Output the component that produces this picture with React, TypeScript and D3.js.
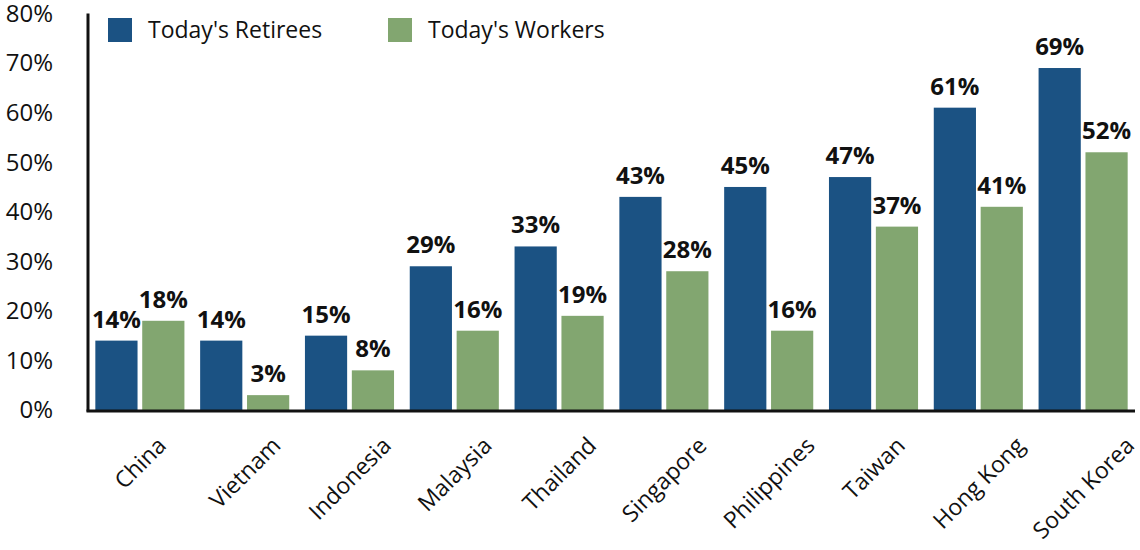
import * as d3 from "d3";
import { useRef, useEffect } from "react";

const categories = [
  "China",
  "Vietnam",
  "Indonesia",
  "Malaysia",
  "Thailand",
  "Singapore",
  "Philippines",
  "Taiwan",
  "Hong Kong",
  "South Korea",
];
const seriesNames = ["Today's Retirees", "Today's Workers"];
const retirees = [14, 14, 15, 29, 33, 43, 45, 47, 61, 69];
const workers = [18, 3, 8, 16, 19, 28, 16, 37, 41, 52];
const yTicks = [0, 10, 20, 30, 40, 50, 60, 70, 80];

const colors = ["#1b5283", "#82a670"];
const FONT = "'Open Sans', Lato, sans-serif";

function draw(svgEl: SVGSVGElement | null) {
  if (!svgEl) return;
  const svg = d3.select(svgEl);
  svg.selectAll("*").remove();

  const left = 88;
  const right = 1135;
  const bottom = 410;
  const top = 13.5;

  const x0 = d3
    .scaleBand<string>()
    .domain(categories)
    .range([left, right])
    .paddingInner(0.15)
    .paddingOuter(0.07);
  const x1 = d3
    .scaleBand<string>()
    .domain(seriesNames)
    .range([0, x0.bandwidth()])
    .paddingInner(0.1);
  const y = d3.scaleLinear().domain([0, 80]).range([bottom, top]);

  const rows = categories.map((c, i) => ({
    cat: c,
    vals: [retirees[i], workers[i]],
  }));

  // bars
  const groups = svg
    .append("g")
    .selectAll("g")
    .data(rows)
    .join("g")
    .attr("transform", (d) => `translate(${x0(d.cat)},0)`);

  groups
    .selectAll("rect")
    .data((d) => d.vals.map((v, j) => ({ v, s: seriesNames[j], j })))
    .join("rect")
    .attr("x", (d) => x1(d.s)!)
    .attr("y", (d) => y(d.v))
    .attr("width", x1.bandwidth())
    .attr("height", (d) => bottom - y(d.v))
    .attr("fill", (d) => colors[d.j]);

  // value labels
  groups
    .selectAll("text")
    .data((d) => d.vals.map((v, j) => ({ v, s: seriesNames[j] })))
    .join("text")
    .attr("x", (d) => x1(d.s)! + x1.bandwidth() / 2)
    .attr("y", (d) => y(d.v) - 13)
    .attr("text-anchor", "middle")
    .attr("font-family", FONT)
    .attr("font-weight", "bold")
    .attr("font-size", 24)
    .attr("fill", "#111")
    .text((d) => `${d.v}%`);

  // y tick labels
  svg
    .append("g")
    .selectAll("text")
    .data(yTicks)
    .join("text")
    .attr("x", 53)
    .attr("y", (d) => y(d))
    .attr("dy", "0.35em")
    .attr("text-anchor", "end")
    .attr("font-family", FONT)
    .attr("font-size", 24)
    .attr("fill", "#111")
    .text((d) => `${d}%`);

  // axes lines
  svg
    .append("line")
    .attr("x1", left)
    .attr("x2", left)
    .attr("y1", top)
    .attr("y2", bottom + 1.5)
    .attr("stroke", "#111")
    .attr("stroke-width", 3);
  svg
    .append("line")
    .attr("x1", left - 1.5)
    .attr("x2", right)
    .attr("y1", bottom + 1)
    .attr("y2", bottom + 1)
    .attr("stroke", "#111")
    .attr("stroke-width", 3);

  // category labels, rotated -45 and centred by their box
  const catLabels = svg
    .append("g")
    .selectAll("text")
    .data(categories)
    .join("text")
    .attr("text-anchor", "end")
    .attr("font-family", FONT)
    .attr("font-size", 23)
    .attr("fill", "#111")
    .text((d) => d);
  catLabels.attr("transform", function (d) {
    const len = (this as SVGTextElement).getComputedTextLength();
    const cx = x0(d)! + x0.bandwidth() / 2;
    const ex = cx + len * 0.354 + 6;
    return `translate(${ex},447) rotate(-45)`;
  });

  // legend
  const legend = svg
    .append("g")
    .selectAll("g")
    .data(seriesNames)
    .join("g")
    .attr("transform", (_d, i) => `translate(${[108, 388][i]},18)`);
  legend
    .append("rect")
    .attr("width", 24)
    .attr("height", 24)
    .attr("fill", (_d, i) => colors[i]);
  legend
    .append("text")
    .attr("x", 40)
    .attr("y", 12)
    .attr("dy", "0.35em")
    .attr("font-family", FONT)
    .attr("font-size", 23)
    .attr("fill", "#111")
    .text((d) => d);
}

const App = () => {
  const ref = useRef<SVGSVGElement | null>(null);

  useEffect(() => {
    draw(ref.current);
  }, []);

  return (
    <svg
      ref={ref}
      width={1140}
      height={550}
      style={{ position: "absolute", left: 0, top: 0, background: "#fff" }}
    ></svg>
  );
};

export default App;
